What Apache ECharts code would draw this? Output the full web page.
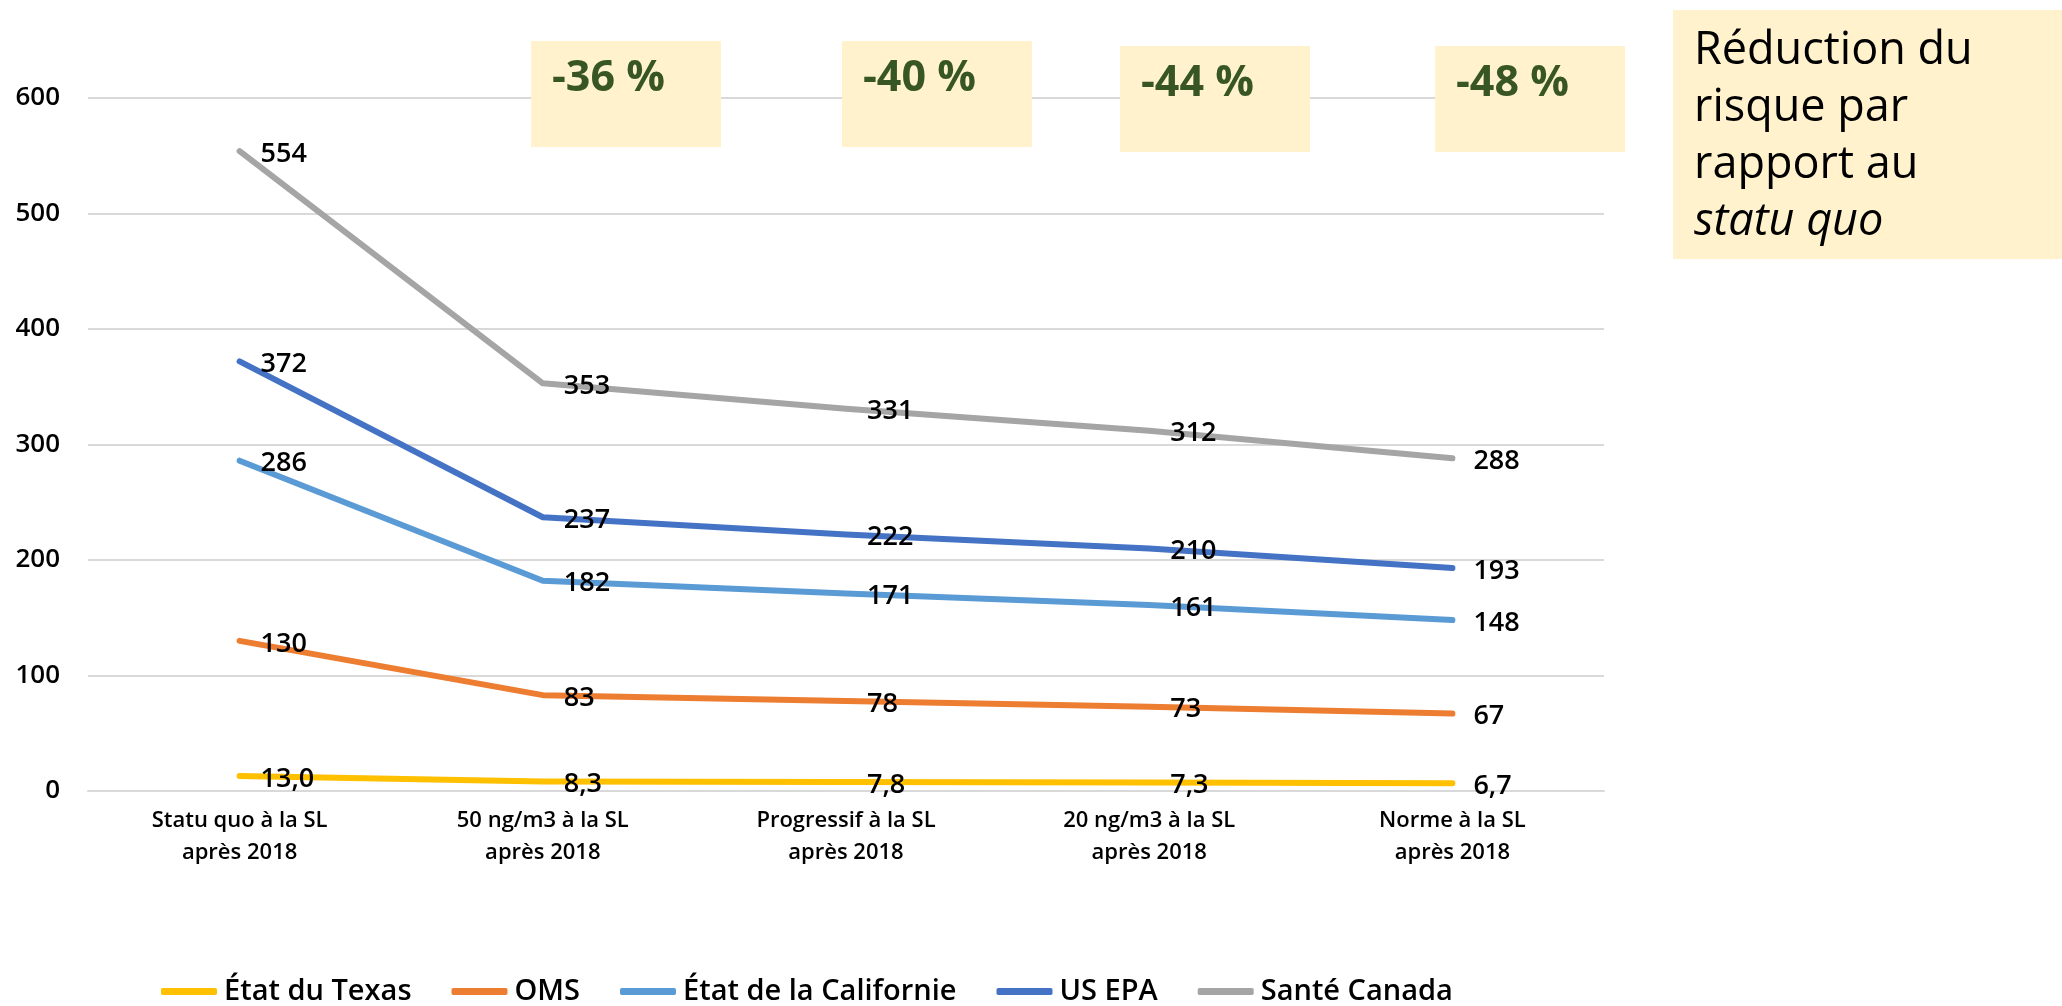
<!DOCTYPE html>
<html>
<head>
<meta charset="utf-8">
<script src="https://cdn.jsdelivr.net/npm/echarts@6/dist/echarts.min.js"></script>
<style>
html,body{margin:0;padding:0;background:#fff}
#chart{width:2062px;height:1006px}
</style>
</head>
<body>
<div id="chart"></div>
<script>
// scénarios (axe des x)
const categories = [
  'Statu quo à la SL\naprès 2018',
  '50 ng/m3 à la SL\naprès 2018',
  'Progressif à la SL\naprès 2018',
  '20 ng/m3 à la SL\naprès 2018',
  'Norme à la SL\naprès 2018'
]
const texas = [13.0, 8.3, 7.8, 7.3, 6.7]
const oms = [130, 83, 78, 73, 67]
const californie = [286, 182, 171, 161, 148]
const usEpa = [372, 237, 222, 210, 193]
const santeCanada = [554, 353, 331, 312, 288]
const reductions = ['-36 %', '-40 %', '-44 %', '-48 %']
const yTicks = [0, 100, 200, 300, 400, 500, 600]

const font = 'Open Sans'

function serie(name, data, color, decimals) {
  return {
    name: name,
    type: 'line',
    data: data,
    showSymbol: true,
    symbol: 'circle',
    symbolSize: 2,
    lineStyle: {color: color, width: 6, cap: 'round', join: 'round'},
    itemStyle: {color: color},
    label: {
      show: true,
      position: 'right',
      distance: 20,
      offset: [0, 3],
      color: '#000',
      fontFamily: font,
      fontWeight: 600,
      fontSize: 27,
      formatter: p => decimals ? p.value.toFixed(1).replace('.', ',') : String(p.value)
    },
    emphasis: {disabled: true},
    z: 3
  }
}

// encadrés des pourcentages (positions en pixels)
const boxPos = [[531, 41], [842, 41], [1120, 46], [1435, 46]]
const boxes = reductions.map((txt, i) => ({
  type: 'group',
  left: boxPos[i][0],
  top: boxPos[i][1],
  z: 20,
  children: [
    {type: 'rect', z: 20, shape: {x: 0, y: 0, width: 190, height: 106}, style: {fill: '#FFF2CC'}},
    {type: 'text', z: 21, x: 21, y: 38, style: {
      text: txt, fill: '#375623', font: 'bold 43px "Open Sans"', verticalAlign: 'middle'
    }}
  ]
}))

let option = {
  backgroundColor: '#fff',
  animation: false,
  grid: {left: 88, right: 458, top: 98, bottom: 215},
  legend: {
    left: 156,
    bottom: -5,
    itemGap: 40,
    itemWidth: 56,
    itemHeight: 7,
    icon: 'roundRect',
    textStyle: {fontFamily: font, fontWeight: 600, fontSize: 29, color: '#000', padding: [0, 0, 0, 2]}
  },
  xAxis: {
    type: 'category',
    data: categories,
    boundaryGap: true,
    axisLine: {show: true, lineStyle: {color: '#d9d9d9', width: 2}},
    axisTick: {show: false},
    axisLabel: {
      color: '#000', fontFamily: font, fontWeight: 600, fontSize: 22,
      lineHeight: 32, margin: 14, interval: 0
    }
  },
  yAxis: {
    type: 'value',
    min: yTicks[0],
    max: yTicks[yTicks.length - 1],
    interval: 100,
    axisLine: {show: false},
    axisTick: {show: false},
    splitLine: {lineStyle: {color: '#d9d9d9', width: 2}},
    axisLabel: {color: '#000', fontFamily: font, fontWeight: 600, fontSize: 26, margin: 28}
  },
  graphic: [
    ...boxes,
    {
      type: 'group',
      left: 1673,
      top: 10,
      z: 20,
      children: [
        {type: 'rect', z: 20, shape: {x: 0, y: 0, width: 389, height: 249}, style: {fill: '#FFF2CC'}},
        {type: 'text', z: 21, x: 21, y: 13, style: {
          text: 'Réduction du\nrisque par\nrapport au\n{i|statu quo}',
          fill: '#000',
          fontFamily: font,
          fontSize: 45,
          lineHeight: 57,
          rich: {i: {fontStyle: 'italic', fontFamily: font, fontSize: 45, lineHeight: 57}}
        }}
      ]
    }
  ],
  series: [
    serie('État du Texas', texas, '#FFC000', true),
    serie('OMS', oms, '#ED7D31', false),
    serie('État de la Californie', californie, '#5B9BD5', false),
    serie('US EPA', usEpa, '#4472C4', false),
    serie('Santé Canada', santeCanada, '#A5A5A5', false)
  ]
}

let chart = echarts.init(document.getElementById('chart'))
chart.setOption(option)
</script>
</body>
</html>
